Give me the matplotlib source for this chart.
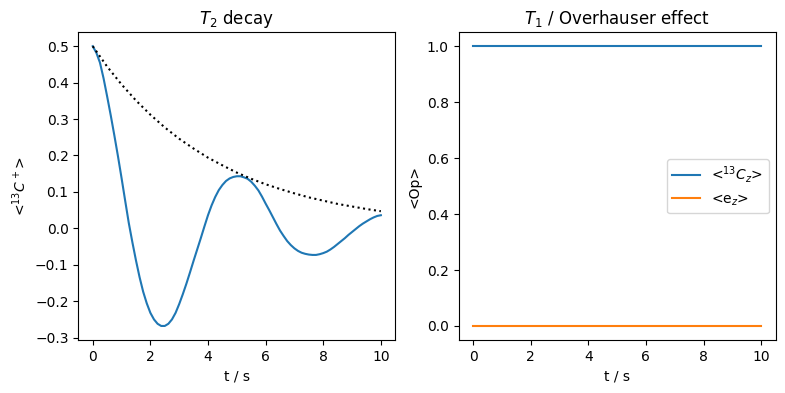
import matplotlib
matplotlib.use('Agg')
import matplotlib.pyplot as plt

# T2 decay: signal, every 0.125 s
t_fid = [0.0, 0.125, 0.25, 0.375, 0.5, 0.625, 0.75, 0.875,
         1.0, 1.125, 1.25, 1.375, 1.5, 1.625, 1.75, 1.875,
         2.0, 2.125, 2.25, 2.375, 2.5, 2.625, 2.75, 2.875,
         3.0, 3.125, 3.25, 3.375, 3.5, 3.625, 3.75, 3.875,
         4.0, 4.125, 4.25, 4.375, 4.5, 4.625, 4.75, 4.875,
         5.0, 5.125, 5.25, 5.375, 5.5, 5.625, 5.75, 5.875,
         6.0, 6.125, 6.25, 6.375, 6.5, 6.625, 6.75, 6.875,
         7.0, 7.125, 7.25, 7.375, 7.5, 7.625, 7.75, 7.875,
         8.0, 8.125, 8.25, 8.375, 8.5, 8.625, 8.75, 8.875,
         9.0, 9.125, 9.25, 9.375, 9.5, 9.625, 9.75, 9.875, 10.0]
c_plus = [0.500, 0.482, 0.455, 0.412, 0.362, 0.310, 0.255, 0.198,
          0.138, 0.076, 0.015, -0.038, -0.088, -0.134, -0.174, -0.206,
          -0.232, -0.250, -0.262, -0.268, -0.268, -0.262, -0.250, -0.232,
          -0.208, -0.181, -0.152, -0.121, -0.089, -0.058, -0.027, 0.005,
          0.036, 0.063, 0.086, 0.105, 0.119, 0.130, 0.137, 0.141,
          0.143, 0.143, 0.140, 0.136, 0.128, 0.117, 0.104, 0.087,
          0.068, 0.050, 0.031, 0.012, -0.006, -0.021, -0.035, -0.046,
          -0.055, -0.062, -0.067, -0.070, -0.072, -0.073, -0.073, -0.071,
          -0.068, -0.064, -0.058, -0.051, -0.043, -0.035, -0.027, -0.018,
          -0.010, -0.002, 0.006, 0.013, 0.019, 0.025, 0.030, 0.034, 0.036]

# decay envelope (dotted), every 0.5 s
t_env = [0.0, 0.5, 1.0, 1.5, 2.0, 2.5, 3.0, 3.5, 4.0, 4.5,
         5.0, 5.5, 6.0, 6.5, 7.0, 7.5, 8.0, 8.5, 9.0, 9.5, 10.0]
envelope = [0.500, 0.444, 0.395, 0.351, 0.312, 0.277, 0.246, 0.219, 0.194, 0.173,
            0.153, 0.136, 0.121, 0.108, 0.096, 0.085, 0.076, 0.067, 0.060, 0.053, 0.047]

# T1 / Overhauser: both expectation values stay flat
t_t1 = [0.0, 10.0]
cz = [1.0, 1.0]
ez = [0.0, 0.0]

fig, (ax1, ax2) = plt.subplots(1, 2, figsize=(7.85, 3.93), dpi=100)
fig.subplots_adjust(left=0.0998, right=0.988, bottom=0.135, top=0.918, wspace=0.2)

ax1.plot(t_fid, c_plus)
ax1.plot(t_env, envelope, 'k:')
ax1.set_title(r'$T_2$ decay')
ax1.set_xlabel('t / s')
ax1.set_ylabel(r'<$^{13}C^+$>')

ax2.plot(t_t1, cz, label=r'<$^{13}C_z$>')
ax2.plot(t_t1, ez, label=r'<e$_z$>')
ax2.set_title(r'$T_1$ / Overhauser effect')
ax2.set_xlabel('t / s')
ax2.set_ylabel('<Op>')
ax2.legend(loc='center right')

fig.savefig('out.png', dpi=100)
